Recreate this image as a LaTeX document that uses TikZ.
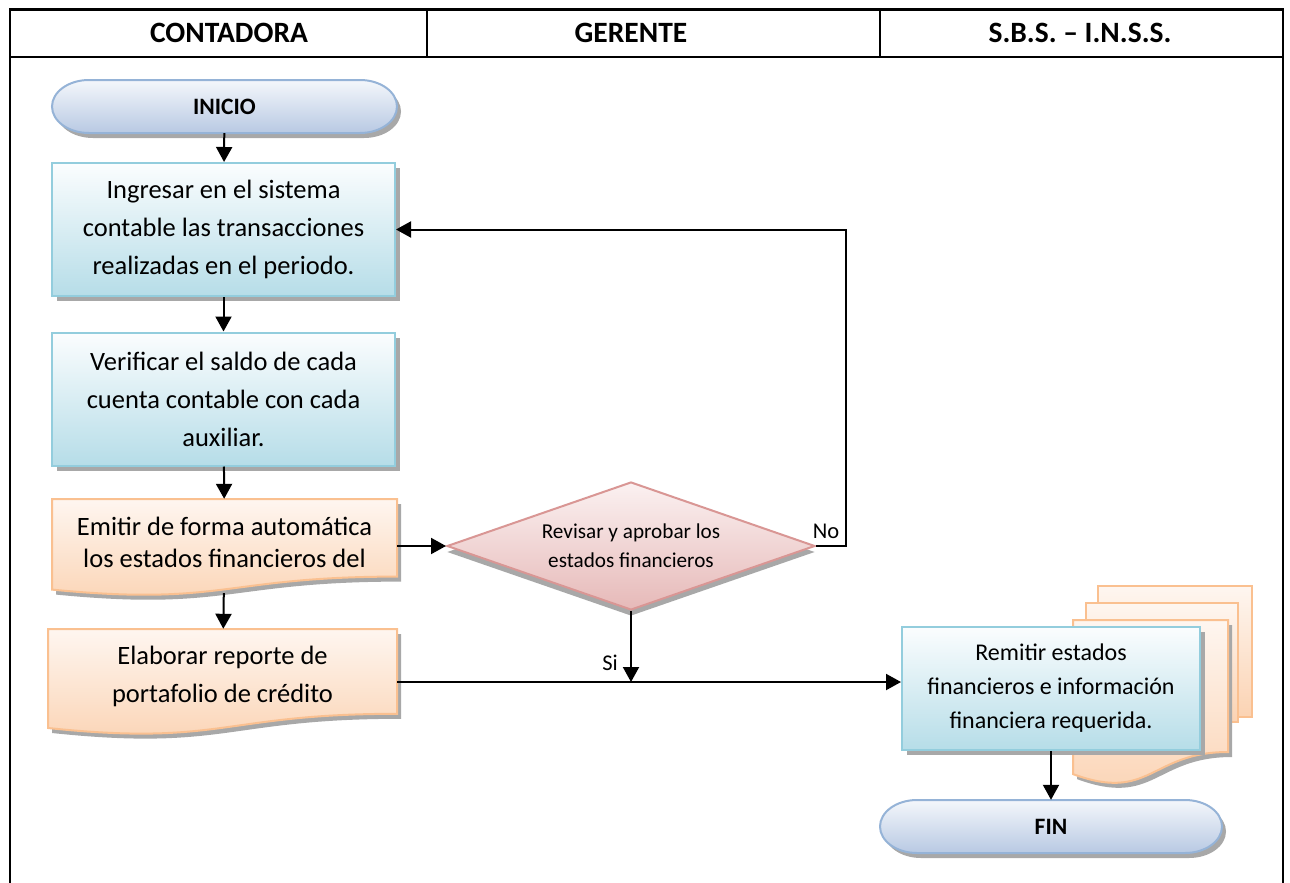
\documentclass[tikz,border=0pt]{standalone}
\usepackage{fontspec}
\setmainfont{Carlito}
\usetikzlibrary{arrows.meta,shapes.geometric,shadows}

\definecolor{termline}{HTML}{95B3D7}
\definecolor{termtop}{HTML}{F4F7FB}
\definecolor{termbot}{HTML}{B8C9E3}
\definecolor{procline}{HTML}{93CDDD}
\definecolor{proctop}{HTML}{FBFDFE}
\definecolor{procbot}{HTML}{B6DDE8}
\definecolor{docline}{HTML}{FAC090}
\definecolor{doctop}{HTML}{FEF6F0}
\definecolor{docbot}{HTML}{FBD3B3}
\definecolor{decline}{HTML}{D99694}
\definecolor{dectop}{HTML}{FBF1F1}
\definecolor{decbot}{HTML}{E6B9B8}
\definecolor{shadowc}{HTML}{A8A8A8}

% stadium with elliptic ends: x1,y1,x2,y2
\newcommand\stadiumpath[4]{({#1+37},#2) -- ({#3-37},#2)
  arc[start angle=-90,end angle=90,x radius=37,y radius={(#4-#2)/2}]
  -- ({#1+37},#4)
  arc[start angle=90,end angle=270,x radius=37,y radius={(#4-#2)/2}] -- cycle}
% document page with wavy bottom: x,y,width,height
\newcommand\docpath[4]{(#1,#2) -- ({#1+#3},#2) -- ({#1+#3},{#2+0.80*#4})
  .. controls ({#1+0.5*#3},{#2+0.80*#4}) and ({#1+0.5*#3},{#2+1.107*#4})
  .. (#1,{#2+0.934*#4}) -- cycle}

\tikzset{
  bodytext/.style={font=\fontsize{26.5}{38}\selectfont, align=center},
  headtext/.style={font=\fontsize{29.5}{34}\selectfont\bfseries},
  termtext/.style={font=\fontsize{23.5}{28}\selectfont\bfseries},
  termfill/.style={draw=termline, line width=2pt, top color=termtop, bottom color=termbot},
  docfill/.style={draw=docline, line width=2pt, top color=doctop, bottom color=docbot},
  shade/.style={fill=shadowc},
  procbox/.style={rectangle, draw=procline, line width=2pt, top color=proctop,
    bottom color=procbot, minimum width=343pt, minimum height=133pt, inner sep=0pt,
    bodytext,
    drop shadow={shadow xshift=5pt, shadow yshift=-5pt, fill=shadowc, opacity=1}},
  decision/.style={diamond, draw=decline, line width=2pt, top color=dectop,
    bottom color=decbot, minimum width=368pt, minimum height=128pt, inner sep=0pt,
    shape aspect=2.875, align=center, font=\fontsize{21.2}{29}\selectfont,
    drop shadow={shadow xshift=0pt, shadow yshift=-6pt, fill=shadowc, opacity=1}},
  plain/.style={rectangle, draw=none, inner sep=0pt},
  conn/.style={line width=2pt, -{Triangle[length=15pt,width=16pt]}},
  frame/.style={line width=2pt},
  lbl/.style={font=\fontsize{22.5}{26}\selectfont, inner sep=0pt}
}

\begin{document}
\begin{tikzpicture}[x=1pt, y=-1pt]
\useasboundingbox (0,0) rectangle (1290,883);
\fill[white] (0,0) rectangle (1290,883);

% swimlane header and frame
\draw[line width=3pt] (9,10) -- (1284,10);
\draw[frame] (9,57) -- (1284,57);
\draw[line width=1.5pt] (427,10) -- (427,57);
\draw[line width=1.5pt] (880,10) -- (880,57);
\draw[frame] (10,9) -- (10,883);
\draw[frame] (1283,9) -- (1283,883);
\node[headtext] (h1) at (229,33) {CONTADORA};
\node[headtext] (h2) at (631,33) {GERENTE};
\node[headtext] (h3) at (1080,33) {S.B.S. – I.N.S.S.};

% start terminator
\fill[shade, shift={(4,5)}] \stadiumpath{52}{80}{397}{133};
\path[termfill] \stadiumpath{52}{80}{397}{133};
\node[plain, minimum width=345pt, minimum height=53pt, termtext] (ini) at (224.5,106.5) {INICIO};

% process steps
\node[procbox] (b1) at (223.5,229.5) {Ingresar en el sistema\\contable las transacciones\\realizadas en el periodo.};
\node[procbox] (b2) at (223.5,399) {Verificar el saldo de cada\\cuenta contable con cada\\auxiliar.};

% documents
\fill[shade, shift={(4,5)}] \docpath{52}{499}{345}{97};
\path[docfill] \docpath{52}{499}{345}{97};
\node[plain, minimum width=345pt, minimum height=94pt] (d3) at (224.5,546) {};
\node[bodytext, font=\fontsize{26.5}{32}\selectfont, inner sep=0pt] (d3t) at (224.5,542) {Emitir de forma automática\\los estados financieros del};

\fill[shade, shift={(4,5)}] \docpath{48}{629}{349}{106};
\path[docfill] \docpath{48}{629}{349}{106};
\node[plain, minimum width=349pt, minimum height=106pt] (d4) at (222.5,682) {};
\node[bodytext, inner sep=0pt] (d4t) at (222.5,676) {Elaborar reporte de\\portafolio de crédito};

% decision
\node[decision] (dia) at (631,546) {Revisar y aprobar los\\estados financieros};

% stacked documents behind the last step
\path[docfill] (1098,586) rectangle (1252,717);
\path[docfill] (1086,603) rectangle (1238,722);
\fill[shade, shift={(4,5)}] \docpath{1073}{620}{155}{165};
\path[docfill] \docpath{1073}{620}{155}{165};

\node[procbox, minimum width=298pt, minimum height=123pt,
  font=\fontsize{24}{34}\selectfont] (rem) at (1051,688.5)
  {Remitir estados\\financieros e información\\financiera requerida.};

% end terminator
\fill[shade, shift={(4,5)}] \stadiumpath{880}{800}{1222}{853};
\path[termfill] \stadiumpath{880}{800}{1222}{853};
\node[plain, minimum width=342pt, minimum height=53pt, termtext] (fin) at (1051,826.5) {FIN};

% connectors
\draw[conn] (ini) -- (b1);
\draw[conn] (b1) -- (b2);
\draw[conn] (b2) -- (d3);
\draw[conn] (d3) -- (d4);
\draw[conn] (d3.east) -- (dia.west);
\coordinate (noturn) at ([xshift=30pt]dia.east);
\draw[conn] (dia.east) -- (noturn) |- (b1.east);
\draw[conn] (dia.south) -- (dia.south |- d4.east);
\draw[conn] (d4.east) -- (d4.east -| rem.west);
\draw[conn] (rem) -- (fin);

\node[lbl] (no) at (826,531) {No};
\node[lbl] (si) at (610,663) {Si};
\end{tikzpicture}
\end{document}
